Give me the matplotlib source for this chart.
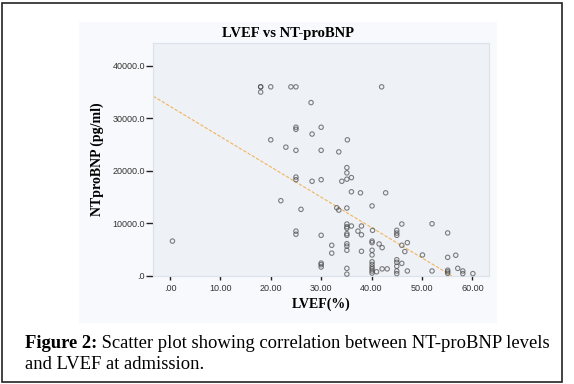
import matplotlib.pyplot as plt
from matplotlib.patches import Rectangle

# LVEF (%) vs NT-proBNP (pg/ml)
lvef = [18, 18, 18, 20, 24, 25, 42, 28, 25, 25, 30, 28.2, 20, 35.2, 23, 25, 30, 33.5,
        35.1, 35.1, 36, 35.1, 34.1, 25, 25, 28.2, 30, 36, 37.8, 42.8, 22, 40.1, 26,
        33.1, 33.5, 35.1,
        25, 25, 30, 0.5, 32.1, 32.1, 30, 30, 30,
        46, 52, 55.1, 35.1, 35.1, 35.1, 36, 38, 37.3, 40.2, 38, 45, 45, 45, 35.1, 35.1,
        47.1, 46, 40.1, 40.1, 41.5, 42.1, 35.1, 35.1, 35.1, 40.1, 38, 46.6, 40.1, 50.1,
        55.1, 56.7, 45, 46, 45, 45, 45, 45, 40.1, 40.1, 40.1, 40.1, 40.1, 40.1, 41,
        42.1, 43.1, 35.1, 35.1, 47.1, 52, 55.1, 55.1, 55.1, 57.1, 58.1, 58.1, 60.1]
ntprobnp = [36000, 36000, 35000, 36000, 36000, 36000, 36000, 33000, 28300, 27900, 28300,
            27000, 25900, 25900, 24500, 23900, 23900, 23600,
            20600, 19600, 18700, 18400, 18000, 18800, 18300, 18000, 18300, 16000, 15800,
            15800, 14300, 13300, 12650, 12950, 12500, 12900,
            8500, 7900, 7700, 6600, 5800, 4300, 2400, 2100, 1650,
            9850, 9900, 8150, 9850, 9330, 9030, 9470, 9470, 8500, 8650, 7800, 8650, 8130,
            7700, 8000, 7700, 6300, 5800, 6600, 6300, 6050, 5350, 6100, 5650, 4850, 4850,
            4650, 4600, 3950, 3950, 3500, 3900, 3050, 2350, 2550, 1800, 900, 400, 2650,
            2150, 1650, 1300, 900, 500, 750, 1300, 1300, 1400, 300, 900, 900, 1050, 750,
            450, 1400, 900, 400, 400]

# linear fit line as drawn in the reference
fit_intercept = 32300
fit_slope = -578

x_ticks = [0, 10, 20, 30, 40, 50, 60]
x_labels = ['.00', '10.00', '20.00', '30.00', '40.00', '50.00', '60.00']
y_ticks = [0, 10000, 20000, 30000, 40000]
y_labels = ['.0', '10000.0', '20000.0', '30000.0', '40000.0']

fig = plt.figure(figsize=(5.74, 3.84), dpi=100)
W, H = 574, 384

# outer caption box and the light chart panel (behind the axes)
fig.patches.append(Rectangle((2 / W, 2 / H), 560 / W, 379 / H, transform=fig.transFigure,
                             fill=False, edgecolor='#222222', linewidth=1.2, zorder=-1))
fig.patches.append(Rectangle((79 / W, 1 - 323 / H), 418 / W, 301 / H, transform=fig.transFigure,
                             facecolor='#f8f9fc', edgecolor='none', zorder=-2))

ax = fig.add_axes([153.3 / W, 1 - 275.7 / H, 335.7 / W, 232.4 / H])
ax.set_facecolor('#eef1f6')
for s in ax.spines.values():
    s.set_color('#dbe2ec')
    s.set_linewidth(0.8)

ax.scatter(lvef, ntprobnp, s=10, facecolors='none', edgecolors='#4a4a4a',
           linewidths=0.8, alpha=0.7, clip_on=False, zorder=3)

xmin, xmax = -3.3, 63.3
ax.plot([xmin, xmax], [fit_intercept + fit_slope * xmin, fit_intercept + fit_slope * xmax],
        color='#f2b45c', linestyle=(0, (3, 1.5)), linewidth=0.8, zorder=2)

ax.set_xlim(xmin, xmax)
ax.set_ylim(0, 44300)
ax.set_xticks(x_ticks)
ax.set_xticklabels(x_labels)
ax.set_yticks(y_ticks)
ax.set_yticklabels(y_labels)
ax.tick_params(axis='y', length=5, width=1, color='#222222', pad=1,
               labelsize=6.5, labelcolor='#333333')
ax.tick_params(axis='x', length=3, width=1, color='#222222', pad=3,
               labelsize=6.5, labelcolor='#333333')
for lab in ax.get_xticklabels() + ax.get_yticklabels():
    lab.set_family('Liberation Sans')

serif = 'Liberation Serif'
ax.set_xlabel('LVEF(%)', family=serif, fontweight='bold', fontsize=10, labelpad=3)
ax.set_ylabel('NTproBNP (pg/ml)', family=serif, fontweight='bold', fontsize=10, labelpad=6)
fig.text(288 / W, 1 - 33 / H, 'LVEF vs NT-proBNP', family=serif, fontweight='bold',
         fontsize=10.5, ha='center', va='center')

# caption below the chart
t1 = fig.text(25 / W, 1 - 348 / H, 'Figure 2:', family=serif, fontweight='bold',
              fontsize=13.4, ha='left', va='baseline')
ax.annotate(' Scatter plot showing correlation between NT-proBNP levels', xy=(1, 0),
            xycoords=t1, va='bottom', ha='left', family=serif, fontsize=13.4,
            annotation_clip=False)
fig.text(25 / W, 1 - 369 / H, 'and LVEF at admission.', family=serif, fontsize=13.4,
         ha='left', va='baseline')

plt.savefig('out.png', dpi=100)
